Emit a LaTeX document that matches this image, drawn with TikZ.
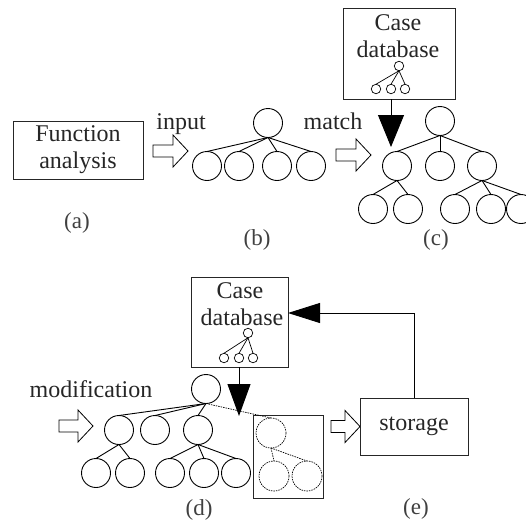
\documentclass[tikz,border=0pt]{standalone}
\usepackage{fontspec}
\setmainfont{Liberation Serif}
\usetikzlibrary{arrows.meta}

% hollow block arrow: left x, tip x, centre y
\newcommand\fatarrow[3]{%
  \draw[fatline] (#1,#3) ++(0,-6) -- ++({#2-#1-15},0) -- ++(0,-10)
    -- ++(15,16) -- ++(-15,16) -- ++(0,-10) -- ++({-(#2-#1-15)},0) -- cycle;}

\begin{document}
\begin{tikzpicture}[x=1pt,y=-1pt,
  every node/.style={inner sep=0pt, outer sep=0pt},
  txt/.style={font=\fontsize{24}{27}\selectfont, text=black!85},
  lbl/.style={font=\fontsize{23}{27}\selectfont, text=black!75},
  frame/.style={draw=black!85, line width=0.9pt},
  big/.style={circle, draw, line width=0.9pt, minimum size=29pt},
  tiny/.style={circle, draw, line width=0.7pt, minimum size=9.5pt},
  ghost/.style={circle, draw, dashed, dash pattern=on 1.5pt off 1pt, line width=0.7pt, minimum size=30pt},
  edge/.style={line width=0.9pt},
  thinedge/.style={line width=0.7pt},
  dashedge/.style={line width=0.7pt, dash pattern=on 1.5pt off 1pt},
  fatline/.style={line width=0.8pt, fill=white, line join=miter},
  downtip/.style={line width=0.9pt, -{Triangle[length=32pt, width=#1]}},
]
\clip (0,0) rectangle (526,522);

% (a) function analysis
\node[frame, txt, minimum width=130pt, minimum height=58pt, align=center]
  (fa) at (78,150) {Function\\analysis};
\node[lbl] (la) at (77,223) {(a)};

% input arrow
\node[txt, anchor=base] (tin) at (181,129) {input};
\fatarrow{153}{188}{151}

% (b) initial tree
\node[big] (b0) at (268,123) {};
\node[big] (b1) at (207,166) {};
\node[big] (b2) at (239,166) {};
\node[big] (b3) at (277,166) {};
\node[big] (b4) at (311,166) {};
\foreach \c in {b1,b2,b3,b4} \draw[edge] (b0.south) -- (\c.north);
\node[lbl] (lb) at (257,240) {(b)};

% match arrow
\node[txt, anchor=base] (tmatch) at (333,129) {match};
\fatarrow{336}{371}{155}

% case database (upper)
\node[frame, minimum width=112pt, minimum height=91pt] (dbA) at (399,53.5) {};
\node[txt, anchor=base] (dbAt1) at (398,30) {Case};
\node[txt, anchor=base] (dbAt2) at (398,57) {database};
\node[tiny] (ma0) at (399,66) {};
\node[tiny] (ma1) at (376,89) {};
\node[tiny] (ma2) at (391,89) {};
\node[tiny] (ma3) at (405,89) {};
\foreach \c in {ma1,ma2,ma3} \draw[thinedge] (ma0.south) -- (\c.north);

% (c) matched tree
\node[big] (c0) at (440,121) {};
\node[big] (c1) at (397,166) {};
\node[big] (c2) at (440,166) {};
\node[big] (c3) at (482,166) {};
\node[big] (c11) at (373,209) {};
\node[big] (c12) at (408,209) {};
\node[big] (c31) at (455,209) {};
\node[big] (c32) at (491,209) {};
\node[big] (c33) at (521,209) {};
\foreach \c in {c1,c2,c3} \draw[edge] (c0.south) -- (\c.north);
\foreach \c in {c11,c12} \draw[edge] (c1.south) -- (\c.north);
\foreach \c in {c31,c32,c33} \draw[edge] (c3.south) -- (\c.north);
\coordinate (tipA) at (391,147);
\draw[downtip=26pt] (tipA |- dbA.south) -- (tipA);
\node[lbl] (lc) at (436,240) {(c)};

% case database (lower)
\node[frame, minimum width=97pt, minimum height=90pt] (dbB) at (239.5,322) {};
\node[txt, anchor=base] (dbBt1) at (240,298) {Case};
\node[txt, anchor=base] (dbBt2) at (242,325) {database};
\node[tiny] (mb0) at (248,333) {};
\node[tiny] (mb1) at (224,358) {};
\node[tiny] (mb2) at (239,358) {};
\node[tiny] (mb3) at (253,358) {};
\foreach \c in {mb1,mb2,mb3} \draw[thinedge] (mb0.south) -- (\c.north);

% modification arrow
\node[txt, anchor=base] (tmod) at (91,397) {modification};
\fatarrow{59}{93}{426}

% (d) modified tree
\node[big] (d0) at (206,389) {};
\node[big] (d1) at (119,430) {};
\node[big] (d2) at (155,430) {};
\node[big] (d3) at (198,430) {};
\node[big] (d11) at (96,473) {};
\node[big] (d12) at (130,473) {};
\node[big] (d31) at (170,473) {};
\node[big] (d32) at (204,473) {};
\node[big] (d33) at (236,473) {};
\foreach \c in {d1,d2,d3} \draw[edge] (d0.south) -- (\c.north);
\foreach \c in {d11,d12} \draw[edge] (d1.south) -- (\c.north);
\foreach \c in {d31,d32,d33} \draw[edge] (d3.south) -- (\c.north);
\coordinate (tipB) at (239,416);
\draw[downtip=23pt] (tipB |- dbB.south) -- (tipB);

% replaced subtree
\node[frame, minimum width=70pt, minimum height=83pt] (sub) at (288,456.5) {};
\node[ghost] (e0) at (271,433) {};
\node[ghost] (e1) at (274,476) {};
\node[ghost] (e2) at (307,476) {};
\draw[dashedge] (d0.south) -- (e0.north);
\draw[dashedge] (e0.south) -- (e1.north);
\draw[dashedge] (e0.south) -- (e2.north);
\node[lbl] (ld) at (199,510) {(d)};

% storage
\fatarrow{331}{360}{426.5}
\node[frame, txt, minimum width=108pt, minimum height=57pt] (st) at (414,426.5) {storage};
\draw[line width=0.9pt, -{Triangle[length=32pt, width=20pt]}]
  (st.north) |- ([yshift=9pt]dbB.east);
\node[lbl] (le) at (416,509) {(e)};
\end{tikzpicture}
\end{document}
